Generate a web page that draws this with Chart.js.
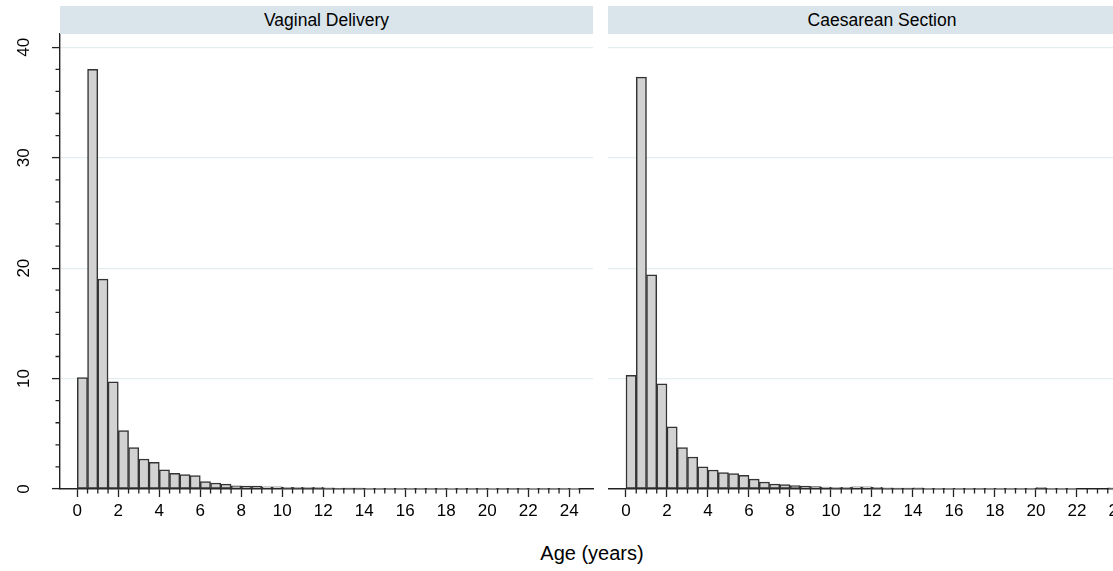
<!DOCTYPE html>
<html>
<head>
<meta charset="utf-8">
<title>Age (years) by mode of delivery</title>
<script src="https://cdn.jsdelivr.net/npm/chart.js@4.4.1/dist/chart.umd.min.js"></script>
<style>
  html, body { margin: 0; padding: 0; background: #fff; overflow: hidden; }
  #fig {
    position: relative; width: 1113px; height: 571px; overflow: hidden;
    font-family: "Liberation Sans", Arial, sans-serif; color: #000;
  }
  .strip {
    position: absolute; top: 6px; height: 28px; line-height: 29px;
    background: #d9e5eb; text-align: center; font-size: 17.5px; white-space: nowrap;
  }
  #vdStrip { left: 60px; width: 533px; }
  #csStrip { left: 608px; width: 548px; }
  #xTitle {
    position: absolute; left: 492px; width: 200px; top: 541px;
    line-height: 24px; font-size: 20px; text-align: center;
  }
  canvas { position: absolute; top: 0; }
</style>
</head>
<body>
<div id="fig">
  <canvas id="vdChart" width="600" height="530" style="left:0"></canvas>
  <canvas id="csChart" width="540" height="530" style="left:608px"></canvas>
  <div class="strip" id="vdStrip">Vaginal Delivery</div>
  <div class="strip" id="csStrip">Caesarean Section</div>
  <div id="xTitle">Age (years)</div>
</div>
<script>
// ===== DATA (percent of children per half-year age bin) =====
const binWidth = 0.5;
const ageBins = [
  0, 0.5, 1, 1.5, 2, 2.5, 3, 3.5, 4, 4.5, 5, 5.5, 6, 6.5, 7, 7.5, 8, 8.5, 9, 9.5,
  10, 10.5, 11, 11.5, 12, 12.5, 13, 13.5, 14, 14.5, 15, 15.5, 16, 16.5, 17, 17.5,
  18, 18.5, 19, 19.5, 20, 20.5, 21, 21.5, 22, 22.5, 23, 23.5, 24
];
const vaginalPct = [
  10.1, 38.0, 19.0, 9.7, 5.3, 3.76, 2.72, 2.42, 1.73, 1.42, 1.3, 1.22, 0.68, 0.54, 0.44, 0.29, 0.26, 0.26, 0.2, 0.2,
  0.14, 0.14, 0.12, 0.16, 0.1, 0.09, 0.08, 0.08, 0.07, 0.07, 0.06, 0.07, 0.06, 0.05, 0.05, 0.05,
  0.04, 0.05, 0.05, 0.04, 0.04, 0.04, 0.03, 0.04, 0.03, 0.03, 0.03, 0.03, 0.02
];
const caesareanPct = [
  10.29, 37.3, 19.4, 9.52, 5.62, 3.75, 2.9, 2.0, 1.72, 1.48, 1.39, 1.24, 0.9, 0.63, 0.45, 0.39, 0.31, 0.27, 0.21, 0.18,
  0.13, 0.15, 0.2, 0.2, 0.15, 0.1, 0.08, 0.08, 0.1, 0.07, 0.06, 0.06, 0.06, 0.05, 0.04, 0.05,
  0.05, 0.06, 0.05, 0.05, 0.12, 0.06, 0.05, 0.05, 0, 0, 0, 0.1, 0
];
const ageTicks = [0, 2, 4, 6, 8, 10, 12, 14, 16, 18, 20, 22, 24];
const pctTicks = [0, 10, 20, 30, 40];

Chart.defaults.font.family = "'Liberation Sans', Arial, sans-serif";
Chart.defaults.color = "#000";

// short ticks between the labelled ones
const minorTicks = {
  id: "minorTicks",
  afterDraw(chart, args, opts) {
    const { ctx } = chart;
    const xs = chart.scales.x, ys = chart.scales.y;
    ctx.save();
    ctx.strokeStyle = "#222";
    ctx.lineWidth = 1.3;
    ctx.beginPath();
    for (let v = 0; v <= 24.5; v += 0.5) {
      if (v % 2 === 0) continue;
      const px = xs.getPixelForValue(v);
      ctx.moveTo(px, xs.top);
      ctx.lineTo(px, xs.top + 4.5);
    }
    if (opts.y) {
      for (let v = 0; v <= 40; v += 2) {
        if (v % 10 === 0) continue;
        const py = ys.getPixelForValue(v);
        ctx.moveTo(ys.right, py);
        ctx.lineTo(ys.right - 4.5, py);
      }
    }
    ctx.stroke();
    ctx.restore();
  }
};

function makeChart(id, values, xMin, showY, yWidth) {
  return new Chart(document.getElementById(id), {
    type: "bar",
    data: {
      datasets: [{
        data: ageBins.map((b, i) => ({ x: b + binWidth / 2, y: values[i] })),
        backgroundColor: "#d2d2d2",
        borderColor: "#333",
        borderWidth: 1.5,
        borderSkipped: false,
        barPercentage: 1,
        categoryPercentage: 1
      }]
    },
    plugins: [minorTicks],
    options: {
      responsive: false,
      animation: false,
      events: [],
      layout: { padding: { top: 34, right: 7, left: 0, bottom: 0 } },
      plugins: {
        legend: { display: false },
        tooltip: { enabled: false },
        minorTicks: { y: showY }
      },
      scales: {
        x: {
          type: "linear",
          min: xMin,
          max: xMin + 26,
          offset: false,
          afterBuildTicks: s => { s.ticks = ageTicks.map(v => ({ value: v })); },
          afterFit: s => { s.height = 41; },
          grid: { offset: false, drawOnChartArea: false, tickLength: 8, tickColor: "#222", tickWidth: 1.3 },
          border: { display: true, color: "#222", width: 1.4 },
          ticks: { font: { size: 17 }, padding: 4, maxRotation: 0, autoSkip: false }
        },
        y: {
          min: 0,
          max: 41.2,
          afterBuildTicks: s => { s.ticks = pctTicks.map(v => ({ value: v })); },
          afterFit: s => { s.width = yWidth; },
          grid: {
            color: c => (c.tick && c.tick.value === 0 ? "rgba(0,0,0,0)" : "#e4edf0"),
            lineWidth: 1.2,
            drawTicks: showY,
            tickLength: 8,
            tickColor: "#222",
            tickWidth: 1.3
          },
          border: { display: showY, color: "#222", width: 1.4 },
          ticks: {
            display: showY,
            font: { size: 17 },
            padding: 18,
            minRotation: 90,
            maxRotation: 90,
            crossAlign: "center"
          }
        }
      }
    }
  });
}

makeChart("vdChart", vaginalPct, -0.844, true, 60);
makeChart("csChart", caesareanPct, -0.878, false, 0);
</script>
</body>
</html>
